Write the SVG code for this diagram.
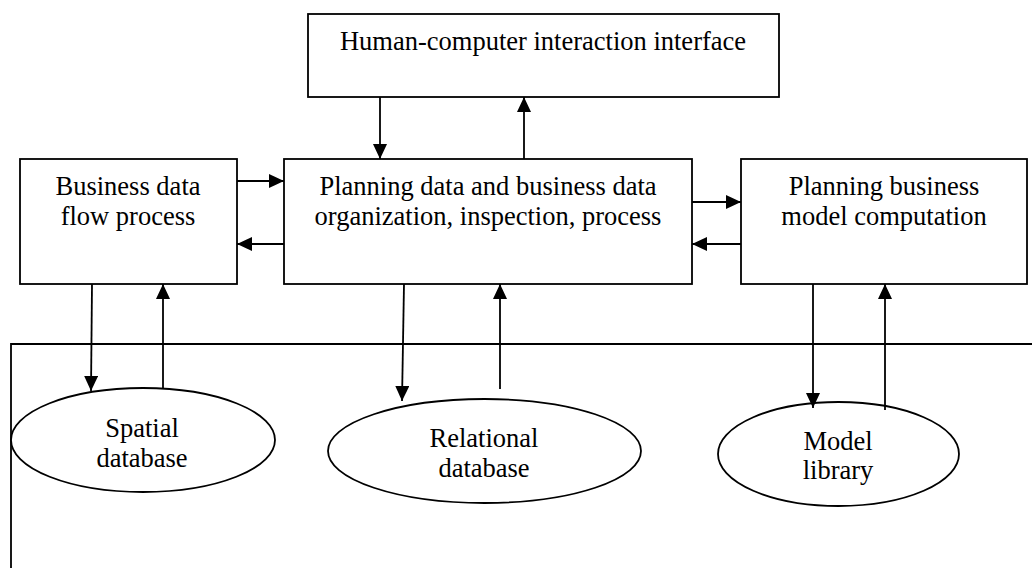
<svg xmlns="http://www.w3.org/2000/svg" width="1032" height="568" viewBox="0 0 1032 568">
<style>
.box{fill:#fff;stroke:#000;stroke-width:1.8}
.ell{fill:#fff;stroke:#000;stroke-width:1.8}
.t{font-family:"Liberation Serif","Times New Roman",serif;font-size:26.5px;fill:#000;text-anchor:middle}
.c{stroke:#000;stroke-width:1.8;fill:none}
.a{marker-end:url(#ah)}
</style>
<defs>
<marker id="ah" markerUnits="userSpaceOnUse" markerWidth="15" markerHeight="14" refX="15" refY="7" orient="auto">
<path d="M0,0 L15,7 L0,14 Z" fill="#000"/>
</marker>
</defs>
<g id="frame"><polyline class="c" points="11,568 11,344 1032,344"/></g>
<g id="hci">
<rect class="box" x="308" y="14" width="471" height="83"/>
<text class="t" x="543" y="50">Human-computer interaction interface</text>
</g>
<g id="bdf">
<rect class="box" x="20" y="159" width="217" height="125"/>
<text class="t" x="128" y="195">Business data</text>
<text class="t" x="128" y="225">flow process</text>
</g>
<g id="pd">
<rect class="box" x="284" y="159" width="408" height="125"/>
<text class="t" x="488" y="195">Planning data and business data</text>
<text class="t" x="488" y="225">organization, inspection, process</text>
</g>
<g id="pbm">
<rect class="box" x="741" y="159" width="286" height="125"/>
<text class="t" x="884" y="195">Planning business</text>
<text class="t" x="884" y="225">model computation</text>
</g>
<g id="sdb">
<ellipse class="ell" cx="143" cy="440" rx="132" ry="52"/>
<text class="t" x="142" y="437">Spatial</text>
<text class="t" x="142" y="467">database</text>
</g>
<g id="rdb">
<ellipse class="ell" cx="484.5" cy="451" rx="156.5" ry="52"/>
<text class="t" x="484" y="447">Relational</text>
<text class="t" x="484" y="477">database</text>
</g>
<g id="ml">
<ellipse class="ell" cx="838.5" cy="454" rx="120.5" ry="52"/>
<text class="t" x="838" y="450">Model</text>
<text class="t" x="838" y="479">library</text>
</g>
<g id="connectors">
<line class="c a" x1="380" y1="97" x2="380" y2="159"/>
<line class="c a" x1="524" y1="159" x2="524" y2="97"/>
<line class="c a" x1="237" y1="181" x2="284" y2="181"/>
<line class="c a" x1="284" y1="244" x2="237" y2="244"/>
<line class="c a" x1="692" y1="202" x2="741" y2="202"/>
<line class="c a" x1="741" y1="244" x2="692" y2="244"/>
<line class="c a" x1="92" y1="284" x2="91" y2="391"/>
<line class="c a" x1="163" y1="389" x2="163" y2="284"/>
<line class="c a" x1="404" y1="284" x2="402" y2="401"/>
<line class="c a" x1="500" y1="389" x2="500" y2="284"/>
<line class="c a" x1="813" y1="284" x2="813" y2="408"/>
<line class="c a" x1="885" y1="410" x2="885" y2="284"/>
</g>
</svg>
